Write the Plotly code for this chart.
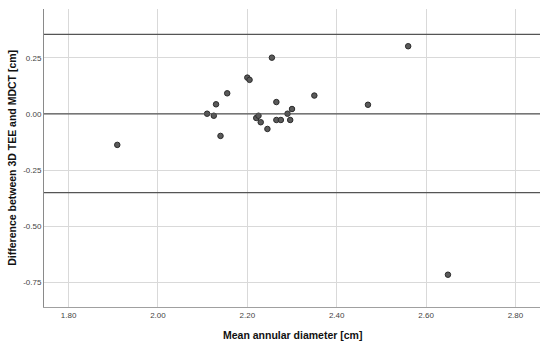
import plotly.graph_objects as go

# Data (Bland-Altman plot)
mean_diameter = [1.909, 2.110, 2.125, 2.130, 2.140, 2.155, 2.200, 2.205, 2.220, 2.225,
                 2.230, 2.245, 2.255, 2.265, 2.265, 2.275, 2.290, 2.296, 2.300, 2.350,
                 2.470, 2.560, 2.649]
difference = [-0.138, 0.001, -0.008, 0.043, -0.098, 0.092, 0.162, 0.152, -0.018, -0.008,
              -0.037, -0.067, 0.251, 0.053, -0.027, -0.027, 0.001, -0.027, 0.022, 0.082,
              0.041, 0.302, -0.717]
# mean difference and limits of agreement
reference_lines = [0.355, 0.0, -0.351]

x_ticks = [1.80, 2.00, 2.20, 2.40, 2.60, 2.80]
y_ticks = [0.25, 0.00, -0.25, -0.50, -0.75]

x_title = "Mean annular diameter [cm]"
y_title = "Difference between 3D TEE and MDCT [cm]"

fig = go.Figure()
fig.add_trace(go.Scatter(
    x=mean_diameter, y=difference, mode="markers",
    marker=dict(size=5.5, color="#5a5a5a", line=dict(color="#2b2b2b", width=1)),
    showlegend=False,
))
for v in reference_lines:
    fig.add_hline(y=v, line=dict(color="#555555", width=1.3), layer="above")

fig.update_layout(
    width=550, height=347,
    margin=dict(l=44, r=10, t=9, b=40, autoexpand=False),
    paper_bgcolor="white", plot_bgcolor="white",
    font=dict(family="Liberation Sans, Arial, sans-serif", color="#333333"),
    annotations=[
        dict(text=f"<b>{x_title}</b>", xref="paper", yref="paper", x=0.5, y=-0.093,
             xanchor="center", yanchor="middle", showarrow=False,
             font=dict(size=10.5, color="#111111")),
        dict(text=f"<b>{y_title}</b>", xref="paper", yref="paper", x=-0.065, y=0.5,
             xanchor="center", yanchor="middle", textangle=-90, showarrow=False,
             font=dict(size=10.5, color="#111111")),
    ],
)
fig.update_xaxes(
    range=[1.745, 2.855], tickvals=x_ticks, ticktext=[f"{t:.2f}" for t in x_ticks],
    showgrid=True, gridcolor="#d9d9d9", gridwidth=1, automargin=False,
    showline=True, linecolor="#a0a0a0", linewidth=1, zeroline=False,
    ticks="", tickfont=dict(size=8, color="#444444"),
)
fig.update_yaxes(
    range=[-0.861, 0.468], tickvals=y_ticks, ticktext=[f"{t:.2f}" for t in y_ticks],
    showgrid=True, gridcolor="#d9d9d9", gridwidth=1, automargin=False,
    showline=True, linecolor="#8a8a8a", linewidth=1, zeroline=False,
    ticks="", tickfont=dict(size=8, color="#444444"),
)

fig.write_html(
    "out.html",
    config={"displayModeBar": False},
    post_script="document.body.style.margin='0';document.body.style.overflow='hidden';",
)
